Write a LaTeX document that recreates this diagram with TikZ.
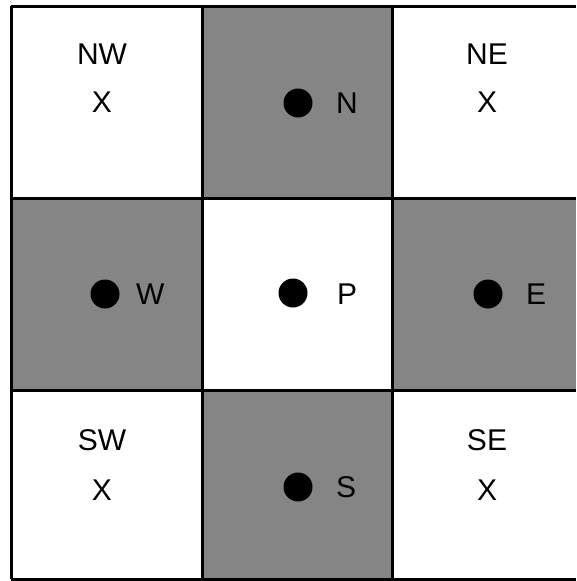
\documentclass[tikz,border=0pt]{standalone}
\usepackage{fontspec}
\setmainfont{Liberation Sans}
\begin{document}
\begin{tikzpicture}[x=1pt,y=-1pt,
  shaded/.style={fill=black!48},
  grid/.style={line width=3pt},
  dot/.style={circle,fill=black,inner sep=0pt,minimum size=29pt},
  lbl/.style={font=\fontsize{30}{30}\selectfont,inner sep=0pt}]
\useasboundingbox (0,0) rectangle (576,581);
\fill[shaded] (202,6) rectangle (392,198);
\fill[shaded] (11,198) rectangle (202,390);
\fill[shaded] (392,198) rectangle (576,390);
\fill[shaded] (202,390) rectangle (392,579);
\draw[grid] (11,6) -- (576,6);
\draw[grid] (11,198) -- (576,198);
\draw[grid] (11,390) -- (576,390);
\draw[grid] (11,579) -- (576,579);
\draw[grid] (11,6) -- (11,579);
\draw[grid] (202,6) -- (202,579);
\draw[grid] (392,6) -- (392,579);
\node[dot] (n) at (298,103) {};
\node[lbl,anchor=west] (nl) at (336,103) {N};
\node[dot] (w) at (105,294) {};
\node[lbl,anchor=west] (wl) at (136,294) {W};
\node[dot] (p) at (293,293) {};
\node[lbl,anchor=west] (pl) at (337,294) {P};
\node[dot] (e) at (488,294) {};
\node[lbl,anchor=west] (el) at (526,294) {E};
\node[dot] (s) at (298,487) {};
\node[lbl,anchor=west] (sl) at (336,487) {S};
\node[lbl] (nw) at (102,54) {NW};
\node[lbl] (nwx) at (102,102) {X};
\node[lbl] (ne) at (487,54) {NE};
\node[lbl] (nex) at (487,102) {X};
\node[lbl] (sw) at (102,440) {SW};
\node[lbl] (swx) at (102,490) {X};
\node[lbl] (se) at (487,440) {SE};
\node[lbl] (sex) at (487,490) {X};
\end{tikzpicture}
\end{document}
